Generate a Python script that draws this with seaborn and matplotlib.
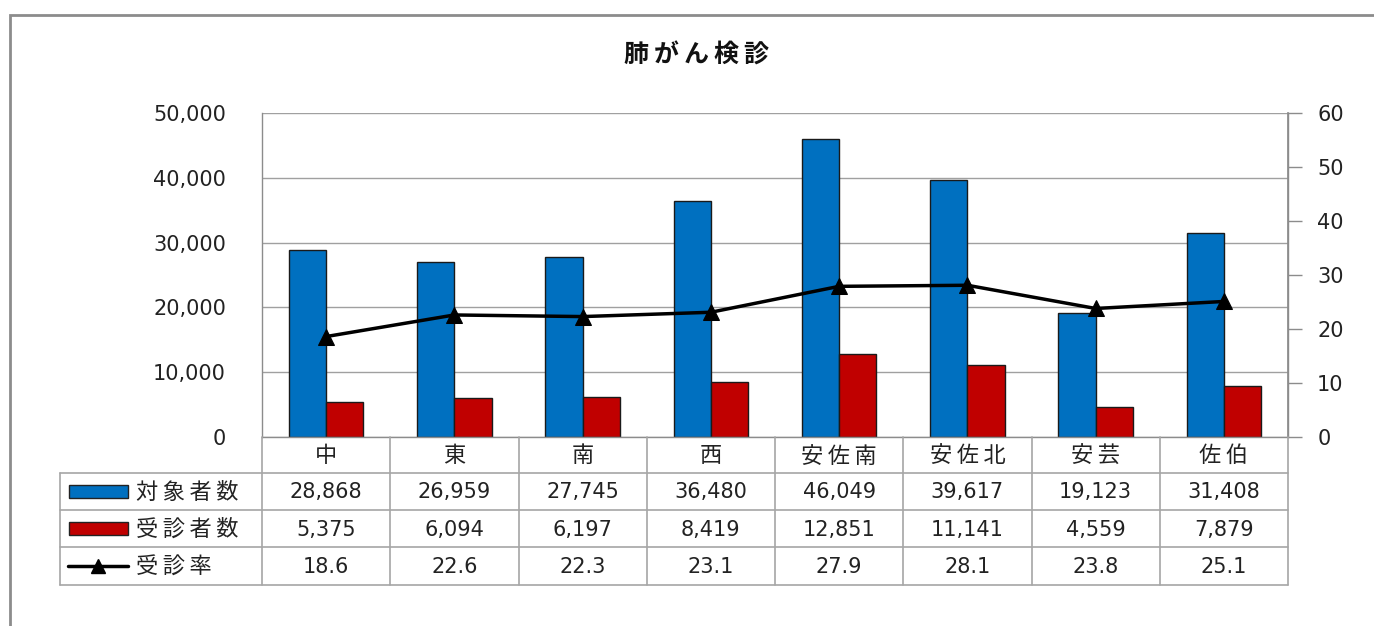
import matplotlib
matplotlib.use('Agg')
import matplotlib.pyplot as plt
import matplotlib.transforms as mtransforms
from matplotlib.patches import Rectangle
from matplotlib.lines import Line2D
from matplotlib.ticker import FuncFormatter
import numpy as np
import pandas as pd
import seaborn as sns

# データ
areas = ['中', '東', '南', '西', '安佐南', '安佐北', '安芸', '佐伯']
taisho = [28868, 26959, 27745, 36480, 46049, 39617, 19123, 31408]
jushin = [5375, 6094, 6197, 8419, 12851, 11141, 4559, 7879]
ritsu = [18.6, 22.6, 22.3, 23.1, 27.9, 28.1, 23.8, 25.1]
series_names = ['対象者数', '受診者数', '受診率']
title = '肺がん検診'
colors = ['#0070C0', '#C00000']

sns.set_theme(style='white')
plt.rcParams['font.family'] = ['DejaVu Sans', 'Noto Sans CJK JP']

W, H = 1374, 626
fig = plt.figure(figsize=(W / 100, H / 100), dpi=100)


def spaced(s):
    # 元画像は横に引き伸ばされているので文字間を少し空ける
    return '\u2009'.join(s)


# 外枠
fig.patches.append(Rectangle((10 / W, -0.1), 1.2, 1 - 15 / H + 0.1, transform=fig.transFigure,
                             fill=False, edgecolor='#8c8c8c', linewidth=2))

# 棒グラフ
x0, x1, y0, y1 = 262, 1288, 113, 437
ax = fig.add_axes([x0 / W, 1 - y1 / H, (x1 - x0) / W, (y1 - y0) / H])
df = pd.DataFrame({
    '地区': areas * 2,
    '系列': [series_names[0]] * len(areas) + [series_names[1]] * len(areas),
    '値': taisho + jushin,
})
sns.barplot(data=df, x='地区', y='値', hue='系列', palette=colors, width=0.58, gap=0,
            edgecolor='#1a1a1a', linewidth=1, saturation=1, legend=False, ax=ax)
ax.set_ylim(0, 50000)
ax.set_xlim(-0.5, len(areas) - 0.5)
ax.set_yticks(np.arange(0, 50001, 10000))
ax.yaxis.set_major_formatter(FuncFormatter(lambda v, p: f'{int(v):,}'))
ax.yaxis.grid(True, color='#a0a0a0', linewidth=1)
ax.set_axisbelow(True)
ax.set_xticks([])
ax.set_xlabel('')
ax.set_ylabel('')
ax.tick_params(axis='y', length=0, pad=26, labelsize=15, colors='#222222')
for s in ['left', 'right', 'bottom']:
    ax.spines[s].set_color('#8c8c8c')
    ax.spines[s].set_linewidth(1)
ax.spines['top'].set_visible(False)

# 受診率（右軸）
ax2 = ax.twinx()
sns.lineplot(x=np.arange(len(areas)), y=ritsu, ax=ax2, color='black', linewidth=2.5,
             marker='^', markersize=11, markeredgecolor='black')
ax2.set_ylim(0, 60)
ax2.set_yticks(np.arange(0, 61, 10))
ax2.tick_params(axis='y', length=10, width=1, pad=11, labelsize=15, colors='#222222')
ax2.tick_params(axis='y', color='#8c8c8c')
for s in ['left', 'bottom', 'top']:
    ax2.spines[s].set_visible(False)
ax2.spines['right'].set_color('#8c8c8c')
ax2.set_xlim(-0.5, len(areas) - 0.5)

# タイトル
fig.text(697 / W, 1 - 56 / H, spaced(title), ha='center', va='center', fontsize=18,
         fontweight='bold', color='#111111')

# データテーブル
tax = fig.add_axes([0, 0, 1, 1], facecolor='none')
tax.set_xlim(0, W)
tax.set_ylim(H, 0)
tax.axis('off')
tr = mtransforms.blended_transform_factory(ax.transData, tax.transData)
rows = [437, 473, 510, 547, 585]
grid_c = '#a6a6a6'
n = len(areas)
for y in rows[1:]:
    tax.plot([60, x1], [y, y], color=grid_c, lw=1.2)
tax.plot([60, 60], [rows[1], rows[-1]], color=grid_c, lw=1.2)
for k in range(n + 1):
    tax.add_line(Line2D([k - 0.5, k - 0.5], [rows[0], rows[-1]], color=grid_c, lw=1.2,
                        transform=tr))

table_vals = [
    [spaced(a) for a in areas],
    [f'{v:,}' for v in taisho],
    [f'{v:,}' for v in jushin],
    [f'{v:.1f}' for v in ritsu],
]
for r, vals in enumerate(table_vals):
    yc = (rows[r] + rows[r + 1]) / 2
    for i, v in enumerate(vals):
        tax.text(i, yc + 1, v, transform=tr, ha='center', va='center',
                 fontsize=16 if r == 0 else 15, color='#222222')

# 凡例キー
for r, name in enumerate(series_names):
    yc = (rows[r + 1] + rows[r + 2]) / 2
    if r < 2:
        tax.add_patch(Rectangle((69, yc - 6.5), 59, 13, facecolor=colors[r],
                                edgecolor='#222222', lw=1))
    else:
        tax.plot([68, 128], [yc, yc], color='black', lw=2.5)
        tax.plot([98], [yc], marker='^', color='black', markersize=10)
    tax.text(136, yc + 1, spaced(name), ha='left', va='center', fontsize=16,
             color='#222222')

fig.savefig('out.png', dpi=100)
